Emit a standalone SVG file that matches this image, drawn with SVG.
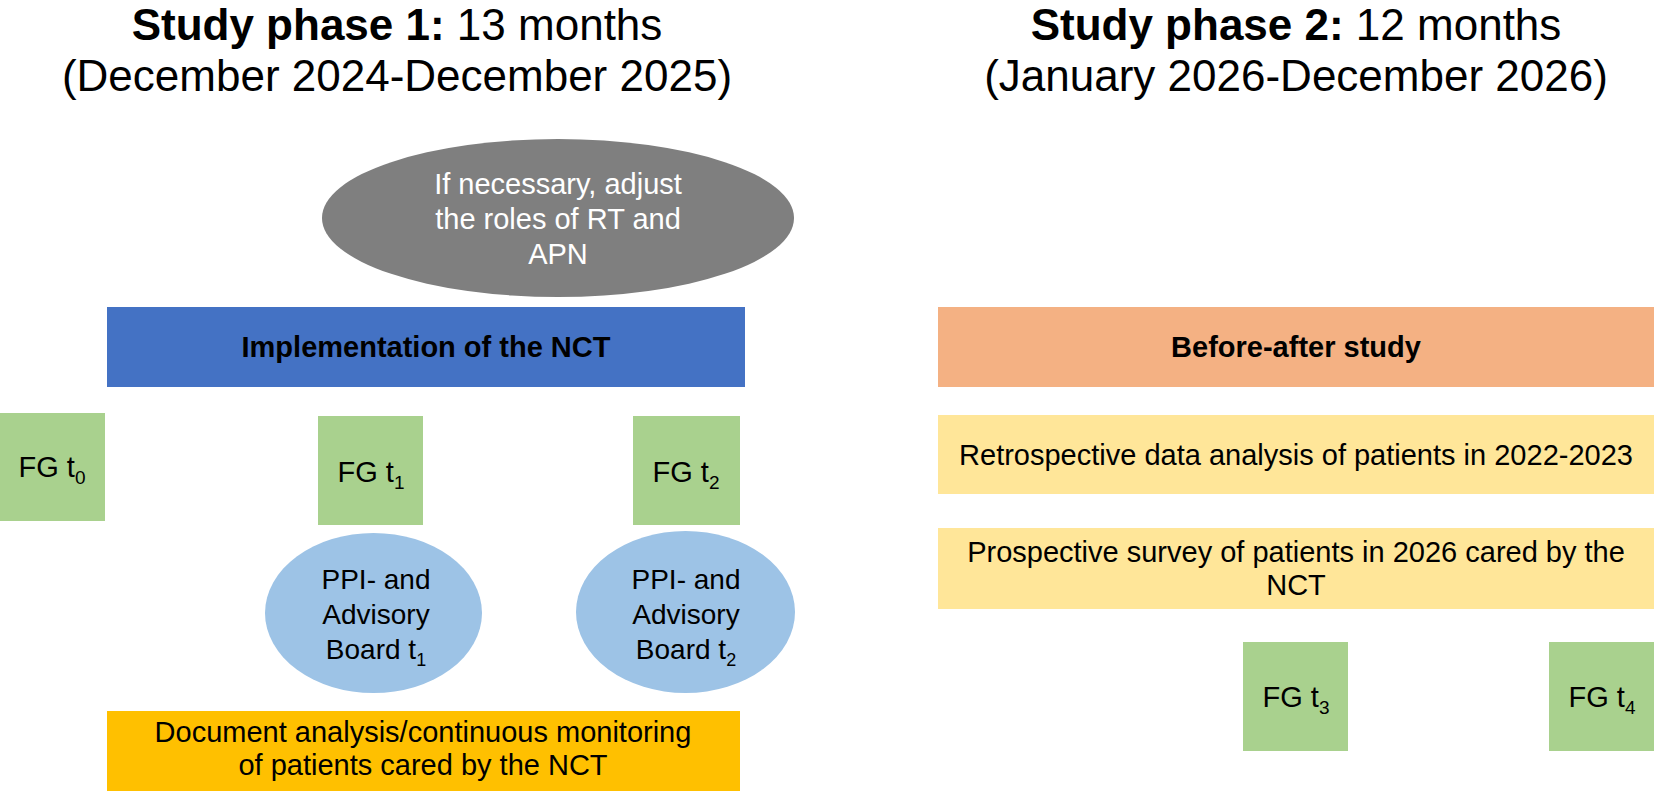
<svg xmlns="http://www.w3.org/2000/svg" width="1654" height="791" viewBox="0 0 1654 791">
<style>
text{font-family:"Liberation Sans",Arial,sans-serif;fill:#000;text-anchor:middle}
.title{font-size:44px}
.b{font-weight:bold}
.t{font-size:29px}
.s{font-size:28px}
.w{fill:#fff}
.fg{fill:#A9D18E}
.pb{fill:#9DC3E6}
</style>
<rect width="1654" height="791" fill="#fff"/>
<g id="connectors"></g>
<g id="title1">
<text class="title" x="397" y="40"><tspan class="b">Study phase 1:</tspan> 13 months</text>
<text class="title" x="397" y="91">(December 2024-December 2025)</text>
</g>
<g id="title2">
<text class="title" x="1296" y="40"><tspan class="b">Study phase 2:</tspan> 12 months</text>
<text class="title" x="1296" y="91">(January 2026-December 2026)</text>
</g>
<g id="adjust">
<ellipse cx="558" cy="218" rx="236" ry="79" fill="#7F7F7F"/>
<text class="t w" x="558" y="194">If necessary, adjust</text>
<text class="t w" x="558" y="229">the roles of RT and</text>
<text class="t w" x="558" y="264">APN</text>
</g>
<g id="implementation">
<rect x="107" y="307" width="638" height="80" fill="#4472C4"/>
<text class="t b" x="426" y="357">Implementation of the NCT</text>
</g>
<g id="fg0">
<rect class="fg" x="0" y="413" width="105" height="108"/>
<text class="t" x="52" y="477">FG t<tspan font-size="19" dy="7">0</tspan></text>
</g>
<g id="fg1">
<rect class="fg" x="318" y="416" width="105" height="109"/>
<text class="t" x="371" y="482">FG t<tspan font-size="19" dy="7">1</tspan></text>
</g>
<g id="fg2">
<rect class="fg" x="633" y="416" width="107" height="109"/>
<text class="t" x="686" y="482">FG t<tspan font-size="19" dy="7">2</tspan></text>
</g>
<g id="ppi1">
<ellipse class="pb" cx="373.5" cy="613" rx="108.5" ry="80"/>
<text class="s" x="376" y="589">PPI- and</text>
<text class="s" x="376" y="624">Advisory</text>
<text class="s" x="376" y="659">Board t<tspan font-size="18" dy="7">1</tspan></text>
</g>
<g id="ppi2">
<ellipse class="pb" cx="685.5" cy="612" rx="109.5" ry="81"/>
<text class="s" x="686" y="589">PPI- and</text>
<text class="s" x="686" y="624">Advisory</text>
<text class="s" x="686" y="659">Board t<tspan font-size="18" dy="7">2</tspan></text>
</g>
<g id="document">
<rect x="107" y="711" width="633" height="80" fill="#FFC000"/>
<text class="t" x="423" y="742">Document analysis/continuous monitoring</text>
<text class="t" x="423" y="775">of patients cared by the NCT</text>
</g>
<g id="beforeafter">
<rect x="938" y="307" width="716" height="80" fill="#F4B183"/>
<text class="t b" x="1296" y="357">Before-after study</text>
</g>
<g id="retro">
<rect x="938" y="415" width="716" height="79" fill="#FFE699"/>
<text class="t" x="1296" y="465">Retrospective data analysis of patients in 2022-2023</text>
</g>
<g id="prosp">
<rect x="938" y="528" width="716" height="81" fill="#FFE699"/>
<text class="t" x="1296" y="562">Prospective survey of patients in 2026 cared by the</text>
<text class="t" x="1296" y="595">NCT</text>
</g>
<g id="fg3">
<rect class="fg" x="1243" y="642" width="105" height="109"/>
<text class="t" x="1296" y="707">FG t<tspan font-size="19" dy="7">3</tspan></text>
</g>
<g id="fg4">
<rect class="fg" x="1549" y="642" width="105" height="109"/>
<text class="t" x="1602" y="707">FG t<tspan font-size="19" dy="7">4</tspan></text>
</g>
</svg>
